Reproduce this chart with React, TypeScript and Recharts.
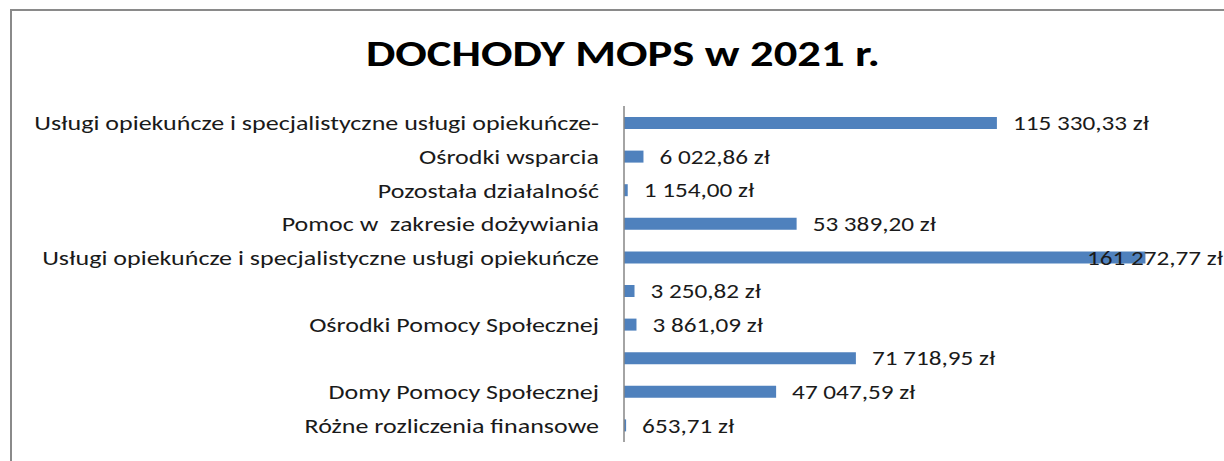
import React from 'react';
import { BarChart, Bar, XAxis, YAxis, LabelList } from 'recharts';

const categories = [
  'Usługi opiekuńcze i specjalistyczne usługi opiekuńcze-',
  'Ośrodki wsparcia',
  'Pozostała działalność',
  'Pomoc w  zakresie dożywiania',
  'Usługi opiekuńcze i specjalistyczne usługi opiekuńcze',
  '',
  'Ośrodki Pomocy Społecznej',
  '',
  'Domy Pomocy Społecznej',
  'Różne rozliczenia finansowe',
];

const values = [
  115330.33, 6022.86, 1154.0, 53389.2, 161272.77, 3250.82, 3861.09, 71718.95, 47047.59, 653.71,
];

const title = 'DOCHODY MOPS w 2021 r.';

const W = 1224;
const H = 461;
const FONT = 'Carlito, Lato, "Open Sans", sans-serif';
// the source picture is stretched sideways, so the text is too
const SX_TICK = 1.24;
const SX_VALUE = 1.2;
const SX_TITLE = 1.295;

const data = categories.map((name, i) => ({ id: i, name, value: values[i] }));

// 115330.33 -> "115 330,33 zł"
const formatPln = (v: number) => {
  const [int, dec] = v.toFixed(2).split('.');
  const grouped = int.replace(/\B(?=(\d{3})+(?!\d))/g, ' ');
  return `${grouped},${dec} zł`;
};

const CategoryTick = (props: any) => {
  const { x, y, payload } = props;
  return (
    <g transform={`translate(${x},${y}) scale(${SX_TICK},1)`}>
      <text
        x={0}
        y={0}
        textAnchor="end"
        dominantBaseline="central"
        fontFamily={FONT}
        fontSize={21}
        fill="#1a1a1a"
        style={{ whiteSpace: 'pre' }}
      >
        {payload.value}
      </text>
    </g>
  );
};

const ValueLabel = (props: any) => {
  const { x, y, width, height, value } = props;
  // Excel pushes the label back inside the chart when it would run off the edge
  const tx = Math.min(x + width + 16, 1087);
  return (
    <g transform={`translate(${tx},${y + height / 2}) scale(${SX_VALUE},1)`}>
      <text x={0} y={0} dominantBaseline="central" fontFamily={FONT} fontSize={21} fill="#1a1a1a">
        {formatPln(value)}
      </text>
    </g>
  );
};

export default function App() {
  return (
    <div style={{ position: 'absolute', left: 0, top: 0, width: W, height: H, background: '#fff', overflow: 'hidden' }}>
      <div
        style={{
          position: 'absolute',
          left: 10,
          top: 9,
          width: W + 20,
          height: H + 20,
          borderLeft: '2px solid #8a8a8a',
          borderTop: '2px solid #8a8a8a',
        }}
      />
      <svg width={W} height={100} style={{ position: 'absolute', left: 0, top: 0 }}>
        <g transform={`translate(623,66) scale(${SX_TITLE},1)`}>
          <text x={0} y={0} textAnchor="middle" fontFamily={FONT} fontWeight={700} fontSize={36} fill="#000">
            {title}
          </text>
        </g>
      </svg>
      <div style={{ position: 'absolute', left: 0, top: 0 }}>
        <BarChart
          width={W}
          height={H}
          data={data}
          layout="vertical"
          margin={{ top: 106, right: 18, bottom: 19, left: 0 }}
        >
          <XAxis type="number" domain={[0, 180000]} hide />
          <YAxis
            type="category"
            dataKey="name"
            width={624}
            interval={0}
            tickLine={false}
            tickSize={0}
            tickMargin={25}
            axisLine={{ stroke: '#868686', strokeWidth: 1.5 }}
            tick={CategoryTick}
          />
          <Bar dataKey="value" fill="#4F81BD" barSize={12} isAnimationActive={false}>
            <LabelList dataKey="value" content={ValueLabel} />
          </Bar>
        </BarChart>
      </div>
    </div>
  );
}
